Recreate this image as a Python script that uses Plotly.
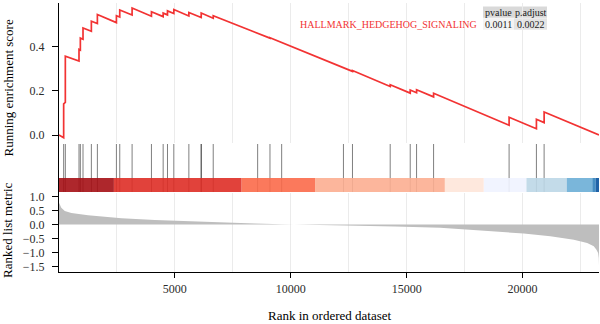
import plotly.graph_objects as go

# ---------------- data ----------------
N_GENES = 23300

# running enrichment score: vertices of the step curve (rank, score)
es_rank = [1, 202, 202, 274, 274, 864, 864, 922, 922, 1037, 1037, 1397, 1397,
           1657, 1657, 2478, 2478, 2622, 2622, 3155, 3155, 3990, 3990, 4495, 4495,
           4682, 4682, 4955, 4955, 5604, 5604, 6137, 6137, 6655, 6655, 8572, 8572,
           9104, 9104, 9608, 9608, 12274, 12274, 12663, 12663, 14291, 14291,
           15155, 15155, 15429, 15429, 16163, 16163, 19421, 19421, 20600, 20600,
           20932, 20932, 23300]
es_value = [0.0, -0.012, 0.14, 0.147, 0.356, 0.334, 0.386, 0.383, 0.437, 0.432, 0.483,
            0.468, 0.513, 0.503, 0.544, 0.507, 0.538, 0.532, 0.564, 0.541, 0.573,
            0.536, 0.556, 0.534, 0.550, 0.542, 0.560, 0.548, 0.566, 0.537, 0.553,
            0.530, 0.550, 0.527, 0.538, 0.457, 0.460, 0.437, 0.439, 0.417, 0.418,
            0.301, 0.304, 0.287, 0.291, 0.219, 0.227, 0.189, 0.203, 0.191, 0.204,
            0.172, 0.188, 0.044, 0.080, 0.028, 0.071, 0.056, 0.104, 0.0]

# positions of the gene-set members in the ranked list
hit_ranks = [202, 274, 864, 922, 1037, 1397, 1657, 2478, 2622, 3155, 3990, 4495,
             4682, 4955, 5604, 6137, 6137, 6655, 8572, 9104, 9608, 12274, 12663,
             14291, 15155, 15429, 16163, 19421, 20600, 20932]

# ranked list metric (rank, value)
metric_rank = [1, 30, 100, 250, 535, 1255, 1975, 2700, 4136, 5575, 7018, 8457,
               9600, 10500, 12500, 14500, 16450, 17600, 18760, 20050, 21200, 22215,
               22790, 23076, 23190, 23263, 23290, 23300]
metric_value = [0.78, 0.71, 0.60, 0.48, 0.41, 0.33, 0.27, 0.22, 0.16, 0.11, 0.06,
                0.035, 0.01, 0.0, -0.03, -0.07, -0.12, -0.18, -0.24, -0.32, -0.42,
                -0.54, -0.66, -0.78, -0.90, -1.02, -1.2, -1.45]

# colour band under the hit ticks
band_edges = [1, 2370, 7880, 11050, 16650, 18330, 20170, 21910, 23010, 23160, 23300]
band_colors = ["#A50F15", "#DE2D26", "#FB6A4A", "#FCAE91", "#FEE5D9",
               "#EFF3FF", "#BDD7E7", "#6BAED6", "#3182BD", "#08519C"]

gene_set = "HALLMARK_HEDGEHOG_SIGNALING"
table_header = ["pvalue", "p.adjust"]
table_values = ["0.0011", "0.0022"]

es_ticks = [0.0, 0.2, 0.4]
metric_ticks = [-1.5, -1.0, -0.5, 0.0, 0.5, 1.0]
rank_ticks = [5000, 10000, 15000, 20000]

# ---------------- layout helpers ----------------
W, H = 600, 324
L, R, T, B = 59, 1, 3, 52
PW, PH = W - L - R, H - T - B


def px_x(px):
    return (px - L) / PW


def px_y(py):
    return (H - B - py) / PH


FONT = "Liberation Serif"
RED = "#F23333"
GRID = "#EBEBEB"
TICKCOL = "#2B2B2B"

fig = go.Figure()

# ES curve
fig.add_trace(go.Scatter(x=es_rank, y=es_value, mode="lines",
                         line=dict(color=RED, width=1.7),
                         xaxis="x", yaxis="y", hoverinfo="skip"))

# rug ticks
rx, ry = [], []
for r in hit_ranks:
    rx += [r, r, None]
    ry += [0.02, 0.98, None]
fig.add_trace(go.Scatter(x=rx, y=ry, mode="lines",
                         line=dict(color="rgba(0,0,0,0.5)", width=1),
                         xaxis="x2", yaxis="y2", hoverinfo="skip"))

# colour band
for i, c in enumerate(band_colors):
    x0, x1 = band_edges[i], band_edges[i + 1]
    fig.add_trace(go.Scatter(x=[x0, x1, x1, x0, x0], y=[0.02, 0.02, 0.3, 0.3, 0.02],
                             mode="lines", fill="toself", fillcolor=c,
                             line=dict(width=0, color=c), opacity=0.9,
                             xaxis="x2", yaxis="y2", hoverinfo="skip"))

# ranked list metric
fig.add_trace(go.Scatter(x=metric_rank, y=metric_value, mode="lines",
                         fill="tozeroy", fillcolor="#BEBEBE",
                         line=dict(width=0, color="#BEBEBE"),
                         xaxis="x3", yaxis="y3", hoverinfo="skip"))

xr = [1, N_GENES]
d_es = [px_y(143), 1.0]
d_rug = [px_y(193), px_y(143)]
d_met = [0.0, px_y(193)]

common_x = dict(range=xr, showline=False, zeroline=False, ticks="",
                showticklabels=False, tick0=0, dtick=5000,
                minor=dict(dtick=2500, showgrid=True, gridcolor=GRID, gridwidth=1))

fig.update_layout(
    width=W, height=H,
    margin=dict(l=L, r=R, t=T, b=B, pad=0),
    paper_bgcolor="white", plot_bgcolor="white",
    showlegend=False,
    font=dict(family=FONT, size=12, color=TICKCOL),
    xaxis=dict(common_x, domain=[0, 1], anchor="y", showgrid=True, gridcolor=GRID),
    xaxis2=dict(common_x, domain=[0, 1], anchor="y2", showgrid=False,
                minor=dict(showgrid=False)),
    xaxis3=dict(range=xr, domain=[0, 1], anchor="y3", showgrid=True, gridcolor=GRID,
                tickvals=rank_ticks, tickformat="d",
                minor=dict(tickvals=[2500, 7500, 12500, 17500, 22500], showgrid=True,
                           gridcolor=GRID, gridwidth=1),
                showline=True, linecolor="black", linewidth=1.3,
                ticks="outside", ticklen=5, tickwidth=1.2, tickcolor="black",
                zeroline=False,
                tickfont=dict(family=FONT, size=12, color=TICKCOL)),
    yaxis=dict(domain=d_es, anchor="x", range=[-0.036, 0.5955],
               tickvals=es_ticks, tickformat=".1f",
               showgrid=False, zeroline=False,
               showline=True, linecolor="black", linewidth=1.3,
               ticks="outside", ticklen=6, tickwidth=1.2, tickcolor="black",
               ticklabelstandoff=5,
               tickfont=dict(family=FONT, size=12, color=TICKCOL)),
    yaxis2=dict(domain=d_rug, anchor="x2", range=[0, 1],
                showgrid=False, zeroline=False, showticklabels=False, ticks="",
                showline=True, linecolor="black", linewidth=1.3),
    yaxis3=dict(domain=d_met, anchor="x3", range=[-1.696, 1.125],
                tickvals=metric_ticks, tickformat=".1f",
                showgrid=False, zeroline=False,
                showline=True, linecolor="black", linewidth=1.3,
                ticks="outside", ticklen=6, tickwidth=1.2, tickcolor="black",
                ticklabelstandoff=5,
                tickfont=dict(family=FONT, size=12, color=TICKCOL)),
)

# axis titles
fig.add_annotation(text="Running enrichment score", xref="paper", yref="paper",
                   x=px_x(8), y=px_y(88.5), textangle=-90, showarrow=False,
                   xanchor="center", yanchor="middle",
                   font=dict(family=FONT, size=13, color="black"))
fig.add_annotation(text="Ranked list metric", xref="paper", yref="paper",
                   x=px_x(8), y=px_y(230), textangle=-90, showarrow=False,
                   xanchor="center", yanchor="middle",
                   font=dict(family=FONT, size=13, color="black"))
fig.add_annotation(text="Rank in ordered dataset", xref="paper", yref="paper",
                   x=px_x(329), y=px_y(315), showarrow=False,
                   xanchor="center", yanchor="middle",
                   font=dict(family=FONT, size=13, color="black"))

# p-value table
fig.add_shape(type="rect", xref="paper", yref="paper", layer="below",
              x0=px_x(483), x1=px_x(547), y0=px_y(17.8), y1=px_y(6.5),
              fillcolor="#D9D9D9", line=dict(width=0))
fig.add_shape(type="rect", xref="paper", yref="paper", layer="below",
              x0=px_x(483), x1=px_x(514), y0=px_y(29.8), y1=px_y(18.2),
              fillcolor="#F3F3F3", line=dict(width=0))
fig.add_shape(type="rect", xref="paper", yref="paper", layer="below",
              x0=px_x(514), x1=px_x(547), y0=px_y(29.8), y1=px_y(18.2),
              fillcolor="#E4E4E4", line=dict(width=0))

col_centers = [498.5, 530.5]
for cx, h, v in zip(col_centers, table_header, table_values):
    fig.add_annotation(text=h, xref="paper", yref="paper", x=px_x(cx), y=px_y(12),
                       showarrow=False, xanchor="center", yanchor="middle",
                       font=dict(family=FONT, size=10, color="#1A1A1A"))
    fig.add_annotation(text=v, xref="paper", yref="paper", x=px_x(cx), y=px_y(24),
                       showarrow=False, xanchor="center", yanchor="middle",
                       font=dict(family=FONT, size=10, color="#1A1A1A"))

fig.add_annotation(text=gene_set, xref="paper", yref="paper", x=px_x(478.5), y=px_y(24),
                   showarrow=False, xanchor="right", yanchor="middle",
                   font=dict(family=FONT, size=10, color=RED))

fig.write_html("out.html")
